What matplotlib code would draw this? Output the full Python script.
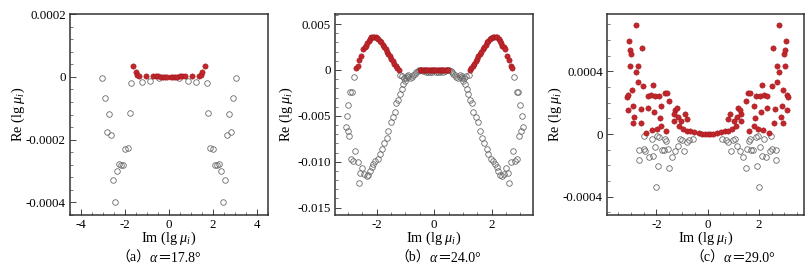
import numpy as np
import matplotlib
matplotlib.use("Agg")
from matplotlib import pyplot as plt
from matplotlib.ticker import FixedLocator, MultipleLocator

plt.rcParams['font.family'] = ['Liberation Serif', 'Noto Sans CJK SC']
plt.rcParams['mathtext.fontset'] = 'custom'
plt.rcParams['mathtext.rm'] = 'Liberation Serif'
plt.rcParams['mathtext.it'] = 'Liberation Serif:italic'

# ---------------- (a) alpha = 17.8 ----------------
a_open_x = [-3.05, -2.93, -2.74, -2.84, -2.65, -2.55, -2.45, -2.36, -2.27, -2.16, -2.07,
            -1.98, -1.87, -1.79, -1.72, -1.24, -0.86, -0.46,
            0.46, 0.86, 1.24, 1.72, 1.79, 1.87, 1.98, 2.07, 2.16, 2.27, 2.36, 2.45, 2.55,
            2.65, 2.84, 2.74, 2.93, 3.05]
a_open_y = [-0.000005, -0.000067, -0.000117, -0.000176, -0.000185, -0.000329, -0.0004,
            -0.0003, -0.000277, -0.00028, -0.00028, -0.00023, -0.000228, -0.000114,
            -0.000019, -0.000015, -0.000012, -0.000005,
            -0.000005, -0.000012, -0.000015, -0.000019, -0.000114, -0.000228, -0.00023,
            -0.00028, -0.00028, -0.000277, -0.0003, -0.0004, -0.000329, -0.000185,
            -0.000176, -0.000117, -0.000067, -0.000005]
a_red_x = [-1.62, -1.52, -1.44, -1.36, -1.05, -0.72, -0.60, -0.48, -0.38, -0.28, -0.18, -0.08,
           0.08, 0.18, 0.28, 0.38, 0.48, 0.60, 0.72, 1.05, 1.36, 1.44, 1.52, 1.62]
a_red_y = [0.000035, 0.000015, 0.000006, 0.000001, 0.000003, 0.000003, 0.000002, 0.000001,
           0, 0, 0, 0,
           0, 0, 0, 0, 0.000001, 0.000002, 0.000003, 0.000003, 0.000001, 0.000006,
           0.000015, 0.000035]
a_yticks = [0.0002, 0, -0.0002, -0.0004]
a_yticklabels = ['0.0002', '0', '-0.0002', '-0.0004']
a_xticks = [-4, -2, 0, 2, 4]
a_xticklabels = ['-4', '-2', '0', '2', '4']

# ---------------- (b) alpha = 24.0 ----------------
b_red_x = [-2.72, -2.66, -2.60, -2.53, -2.47, -2.42, -2.37, -2.33, -2.28, -2.24, -2.19,
           -2.14, -2.09, -2.04, -1.99, -1.94, -1.89, -1.84, -1.79, -1.74, -1.69, -1.64,
           -1.59, -1.54, -1.49, -1.44, -1.39, -1.34, -1.29, -1.24,
           -0.48, -0.44, -0.40, -0.36, -0.32, -0.28, -0.24, -0.20, -0.16, -0.12, -0.08,
           -0.04, 0.00, 0.04, 0.08, 0.12, 0.16, 0.20, 0.24, 0.28, 0.32, 0.36, 0.40, 0.44,
           0.48,
           1.24, 1.29, 1.34, 1.39, 1.44, 1.49, 1.54, 1.59, 1.64, 1.69, 1.74, 1.79, 1.84,
           1.89, 1.94, 1.99, 2.04, 2.09, 2.14, 2.19, 2.24, 2.28, 2.33, 2.37, 2.42, 2.47,
           2.53, 2.60, 2.66, 2.72]
b_red_y = [0.00020, 0.00045, 0.00105, 0.00155, 0.00230, 0.00255, 0.00265, 0.00295,
           0.00320, 0.00340, 0.00355, 0.00362, 0.00363, 0.00358, 0.00350, 0.00335,
           0.00318, 0.00300, 0.00275, 0.00250, 0.00225, 0.00200, 0.00175, 0.00150,
           0.00122, 0.00095, 0.00070, 0.00045, 0.00022, 0.00005,
           0, 0, 0, 0, 0, 0, 0, 0, 0, 0, 0, 0, 0, 0, 0, 0, 0, 0, 0, 0, 0, 0, 0, 0, 0,
           0.00005, 0.00022, 0.00045, 0.00070, 0.00095, 0.00122, 0.00150, 0.00175,
           0.00200, 0.00225, 0.00250, 0.00275, 0.00300, 0.00318, 0.00335, 0.00350,
           0.00358, 0.00363, 0.00362, 0.00355, 0.00340, 0.00320, 0.00295, 0.00265,
           0.00255, 0.00230, 0.00155, 0.00105, 0.00045, 0.00020]
b_open_x = [-2.78, -2.93, -2.87, -2.99, -3.04, -3.08, -3.01, -2.95, -2.75, -2.90, -2.81,
            -2.66, -2.50, -2.58, -2.43, -2.35, -2.29, -2.60,
            -2.23, -2.17, -2.12, -2.06, -1.97, -1.88, -1.83, -1.74, -1.65, -1.59, -1.51,
            -1.44, -1.36, -1.33, -1.25, -1.19, -1.13, -1.07, -1.01, -0.96, -0.90,
            -1.20, -1.12, -1.05, -0.98, -0.90, -0.83, -0.77, -0.72, -0.67, -0.62, -0.57,
            -0.52, -0.45, -0.38, -0.30, -0.22, -0.14, -0.06,
            0.06, 0.14, 0.22, 0.30, 0.38, 0.45, 0.52, 0.57, 0.62, 0.67, 0.72, 0.77, 0.83,
            0.90, 0.98, 1.05, 1.12, 1.20,
            0.90, 0.96, 1.01, 1.07, 1.13, 1.19, 1.25, 1.33, 1.36, 1.44, 1.51, 1.59, 1.65,
            1.74, 1.83, 1.88, 1.97, 2.06, 2.12, 2.17, 2.23,
            2.60, 2.29, 2.35, 2.43, 2.58, 2.50, 2.66, 2.81, 2.90, 2.75, 2.95, 3.01, 3.08,
            3.04, 2.99, 2.87, 2.93, 2.78]
b_open_y = [-0.0008, -0.00237, -0.00237, -0.00382, -0.00499, -0.00619, -0.0067, -0.0072,
            -0.0088, -0.0097, -0.0099, -0.0100, -0.01063, -0.0112, -0.0113, -0.01154,
            -0.0114, -0.0123,
            -0.0110, -0.0106, -0.01027, -0.0099, -0.0097, -0.0092, -0.0086, -0.0080,
            -0.0074, -0.0066, -0.0057, -0.0051, -0.0046, -0.0036, -0.0033, -0.0026,
            -0.0021, -0.0015, -0.0012, -0.0007, -0.0005,
            -0.0005, -0.0007, -0.0009, -0.0009, -0.0008, -0.0009, -0.0008, -0.0006,
            -0.0004, -0.0002, -0.0001, 0.0, 0.0, -0.0001, -0.0002, -0.0002, -0.0002,
            -0.0002,
            -0.0002, -0.0002, -0.0002, -0.0002, -0.0001, 0.0, 0.0, -0.0001, -0.0002,
            -0.0004, -0.0006, -0.0008, -0.0009, -0.0008, -0.0009, -0.0009, -0.0007,
            -0.0005,
            -0.0005, -0.0007, -0.0012, -0.0015, -0.0021, -0.0026, -0.0033, -0.0036,
            -0.0046, -0.0051, -0.0057, -0.0066, -0.0074, -0.0080, -0.0086, -0.0092,
            -0.0097, -0.0099, -0.01027, -0.0106, -0.0110,
            -0.0123, -0.0114, -0.01154, -0.0113, -0.0112, -0.01063, -0.0100, -0.0099,
            -0.0097, -0.0088, -0.0072, -0.0067, -0.00619, -0.00499, -0.00382, -0.00237,
            -0.00237, -0.0008]
b_yticks = [0.005, 0, -0.005, -0.010, -0.015]
b_yticklabels = ['0.005', '0', '-0.005', '-0.010', '-0.015']
b_xticks = [-2, 0, 2]
b_xticklabels = ['-2', '0', '2']

# ---------------- (c) alpha = 29.0 ----------------
c_red_x = [-2.79, -3.07, -3.02, -2.99, -2.56, -3.04, -2.73, -2.78, -2.72, -2.53, -2.96,
           -3.16, -3.12, -2.31, -2.12, -2.22, -2.04, -1.88, -1.65, -1.58, -2.91, -2.62,
           -2.33, -3.11, -2.89, -2.93, -2.61, -2.10, -1.80, -1.50, -1.84, -1.82, -2.40,
           -2.17, -1.97, -1.61, -1.27, -1.19, -1.32, -1.17, -1.32, -1.04, -0.87, -0.80,
           -1.13, -0.96, -0.80, -0.67, -0.51, -0.35, -0.22, -0.10, 0.00,
           0.10, 0.22, 0.35, 0.51, 0.67, 0.80, 0.96, 1.13,
           0.80, 0.87, 1.04, 1.32, 1.17, 1.32, 1.19, 1.27, 1.61, 1.97, 2.17, 2.40, 1.82,
           1.84, 1.50, 1.80, 2.10, 2.61, 2.93, 2.89, 3.11, 2.33, 2.62, 2.91, 1.58, 1.65,
           1.88, 2.04, 2.22, 2.12, 2.31, 3.12, 3.16, 2.96, 2.53, 2.72, 2.78, 2.73, 3.04,
           2.56, 2.99, 3.02, 3.07, 2.79]
c_red_y = [0.000696, 0.000591, 0.000538, 0.000509, 0.000549, 0.000436, 0.000436, 0.000398,
           0.000334, 0.000306, 0.000281, 0.000238, 0.000247, 0.000240, 0.000315, 0.000249,
           0.000245, 0.000240, 0.000260, 0.000260, 0.000181, 0.000160, 0.000164, 0.000155,
           0.000106, 0.000070, 0.000070, 0.000138, 0.000181, 0.000209, 0.000100, 0.000049,
           0.000004, 0.000026, 0.000032, 0.000017, 0.000153, 0.000166, 0.000128, 0.000106,
           0.000085, 0.000085, 0.000128, 0.000096,
           0.000053, 0.000032, 0.000021, 0.000017, 0.000011, 0.000004, 0.000001, 0.0, 0.0,
           0.0, 0.000001, 0.000004, 0.000011, 0.000017, 0.000021, 0.000032, 0.000053,
           0.000096, 0.000128, 0.000085, 0.000085, 0.000106, 0.000128, 0.000166, 0.000153,
           0.000017, 0.000032, 0.000026, 0.000004, 0.000049, 0.000100, 0.000209, 0.000181,
           0.000138, 0.000070, 0.000070, 0.000106, 0.000155, 0.000164, 0.000160, 0.000181,
           0.000260, 0.000260, 0.000240, 0.000245, 0.000249, 0.000315, 0.000240, 0.000247,
           0.000238, 0.000281, 0.000306, 0.000334, 0.000398, 0.000436, 0.000436, 0.000549,
           0.000509, 0.000538, 0.000591, 0.000696]
c_open_x = [-2.47, -2.19, -1.97, -1.88, -1.65, -1.61, -2.50, -2.43, -2.66, -2.30, -2.14,
            -2.06, -1.78, -1.71, -1.54, -2.69, -1.93, -1.49, -2.00, -1.37, -1.26, -1.17,
            -1.06, -1.01, -0.93, -0.80, -0.74, -0.57,
            0.57, 0.74, 0.80, 0.93, 1.01, 1.06, 1.17, 1.26, 1.37, 2.00, 1.49, 1.93, 2.69,
            1.54, 1.71, 1.78, 2.06, 2.14, 2.30, 2.66, 2.43, 2.50, 1.61, 1.65, 1.88, 1.97,
            2.19, 2.47]
c_open_y = [-0.000010, -0.000032, -0.000010, -0.000017, -0.000032, -0.000043, -0.000096,
            -0.000106, -0.000102, -0.000145, -0.000138, -0.000085, -0.000100, -0.000100,
            -0.000096, -0.000164, -0.000206, -0.000219, -0.000340, -0.000149, -0.000106,
            -0.000074, -0.000032, -0.000038, -0.000111, -0.000053, -0.000038, -0.000032,
            -0.000032, -0.000038, -0.000053, -0.000111, -0.000038, -0.000032, -0.000074,
            -0.000106, -0.000149, -0.000340, -0.000219, -0.000206, -0.000164, -0.000096,
            -0.000100, -0.000100, -0.000085, -0.000138, -0.000145, -0.000102, -0.000106,
            -0.000096, -0.000043, -0.000032, -0.000017, -0.000010, -0.000032, -0.000010]
c_yticks = [0.0004, 0, -0.0004]
c_yticklabels = ['0.0004', '0', '-0.0004']
c_xticks = [-2, 0, 2]
c_xticklabels = ['-2', '0', '2']

captions = ['a', 'b', 'c']
alphas = ['17.8', '24.0', '29.0']

W, H = 811, 271
fig = plt.figure(figsize=(W / 100, H / 100), dpi=100)


def make_ax(l, r, xlim, ylim):
    ax = fig.add_axes([l / W, (H - 215) / H, (r - l) / W, 201 / H])
    ax.set_xlim(*xlim)
    ax.set_ylim(*ylim)
    for sp in ax.spines.values():
        sp.set_linewidth(1.1)
        sp.set_color('#333333')
    ax.tick_params(which='both', direction='in', top=False, right=False,
                   labelsize=9.3, pad=3, color='#444444')
    ax.tick_params(which='major', length=4, width=0.7)
    ax.tick_params(which='minor', length=2, width=0.5)
    return ax


def draw(ax, ox, oy, rx, ry):
    ax.plot(ox, oy, 'o', ms=4.0, mfc='none', mec='#6a6a6a', mew=0.6, ls='none')
    ax.plot(rx, ry, 'o', ms=3.8, mfc='#c2252a', mec='#9e1a1f', mew=0.4, ls='none')


def labels(ax, xt, xtl, yt, ytl, xminor, yminor, lpx):
    ax.xaxis.set_major_locator(FixedLocator(xt))
    ax.set_xticklabels(xtl)
    ax.yaxis.set_major_locator(FixedLocator(yt))
    ax.set_yticklabels(ytl)
    ax.xaxis.set_minor_locator(MultipleLocator(xminor))
    ax.yaxis.set_minor_locator(MultipleLocator(yminor))
    ax.set_xlabel(r'Im (lg $\mu_i$)', fontsize=10.3)
    ax.set_ylabel(r'Re (lg $\mu_i$)', fontsize=10.3)
    ax.xaxis.set_label_coords(0.5, -15 / 201)
    ax.yaxis.set_label_coords(-lpx, 0.5)


ax1 = make_ax(70, 268, (-4.5, 4.5), (-0.00044, 0.0002))
draw(ax1, a_open_x, a_open_y, a_red_x, a_red_y)
labels(ax1, a_xticks, a_xticklabels, a_yticks, a_yticklabels, 0.5, 0.00004, 43 / 198)

ax2 = make_ax(335, 533, (-3.45, 3.44), (-0.0158, 0.0061))
draw(ax2, b_open_x, b_open_y, b_red_x, b_red_y)
labels(ax2, b_xticks, b_xticklabels, b_yticks, b_yticklabels, 0.5, 0.001, 40 / 198)

ax3 = make_ax(607, 804, (-3.93, 3.77), (-0.000517, 0.000766))
draw(ax3, c_open_x, c_open_y, c_red_x, c_red_y)
labels(ax3, c_xticks, c_xticklabels, c_yticks, c_yticklabels, 0.5, 0.0001, 43 / 197)

# captions: pieces placed on one baseline
renderer = fig.canvas.get_renderer()
cap_x = [116, 395, 690]
for i in range(3):
    x = cap_x[i] / W
    y = 1 - 262 / H
    parts = [('（' + captions[i] + '）', 'normal'), ('α', 'italic'), ('＝' + alphas[i] + '°', 'normal')]
    for txt, st in parts:
        t = fig.text(x, y, txt, fontsize=10, style=st, va='baseline', ha='left')
        bb = t.get_window_extent(renderer)
        x = bb.x1 / W

fig.savefig('out.png', dpi=100)
